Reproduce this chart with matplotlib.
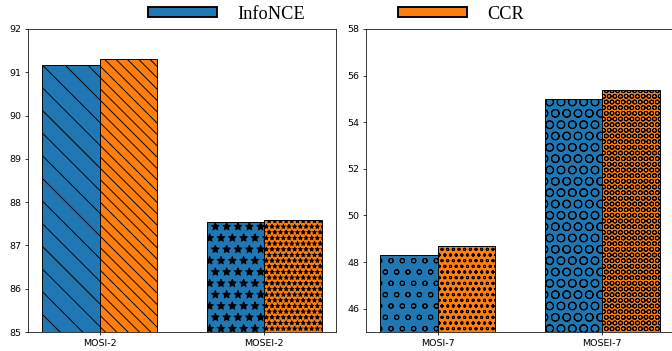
import matplotlib
matplotlib.use("Agg")
import matplotlib.pyplot as plt
import numpy as np
from matplotlib.patches import Patch

methods = ["InfoNCE", "CCR"]
colors = ["#1f77b4", "#ff7f0e"]

left_labels = ["MOSI-2", "MOSEI-2"]
left_infonce = [91.17, 87.54]
left_ccr = [91.31, 87.58]
left_hatch_infonce = ["\\", "*"]
left_hatch_ccr = ["\\\\", "**"]

right_labels = ["MOSI-7", "MOSEI-7"]
right_infonce = [48.29, 55.0]
right_ccr = [48.70, 55.40]
right_hatch_infonce = ["o", "O"]
right_hatch_ccr = ["oo", "OO"]

dpi = 68
fig = plt.figure(figsize=(672 / dpi, 351 / dpi), dpi=dpi)
ax1 = fig.add_axes([28 / 672, 19 / 351, 308 / 672, 303 / 351])
ax2 = fig.add_axes([366 / 672, 19 / 351, 308 / 672, 303 / 351])

width = 0.35


def draw(ax, labels, a, b, ha, hb, ylim):
    x = np.arange(len(labels))
    for i in range(len(labels)):
        ax.bar(x[i] - width / 2, a[i], width, color=colors[0], edgecolor="black",
               linewidth=1.0, hatch=ha[i])
        ax.bar(x[i] + width / 2, b[i], width, color=colors[1], edgecolor="black",
               linewidth=1.0, hatch=hb[i])
    ax.set_xticks(x)
    ax.set_xticklabels(labels)
    ax.set_ylim(*ylim)


draw(ax1, left_labels, left_infonce, left_ccr, left_hatch_infonce, left_hatch_ccr, (85, 92))
draw(ax2, right_labels, right_infonce, right_ccr, right_hatch_infonce, right_hatch_ccr, (45, 58))

handles = [Patch(facecolor=c, edgecolor="black", linewidth=2.0) for c in colors]
fig.legend(handles, methods, loc="center", bbox_to_anchor=(0.5, 1 - 14 / 351), ncol=2,
           frameon=False, prop={"family": "Liberation Serif", "size": 19.5},
           handlelength=3.7, handleheight=0.45, handletextpad=1.1, columnspacing=5.1,
           borderpad=0.1)

fig.savefig("out.png", dpi=dpi)
